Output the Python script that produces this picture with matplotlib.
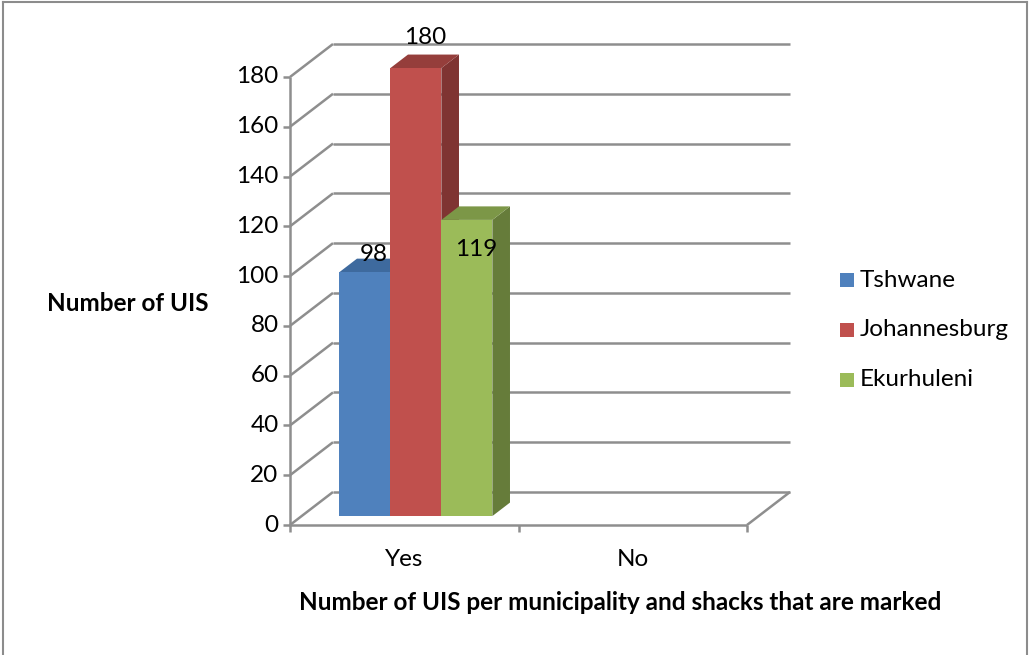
import matplotlib.pyplot as plt
from matplotlib.patches import Rectangle, Polygon

plt.rcParams['font.family'] = ['Lato', 'DejaVu Sans']

# data
categories = ["Yes", "No"]
series = ["Tshwane", "Johannesburg", "Ekurhuleni"]
values = {
    "Tshwane": [98, 0],
    "Johannesburg": [180, 0],
    "Ekurhuleni": [119, 0],
}
yticks = list(range(0, 181, 20))

front_colors = ["#4F81BD", "#C0504D", "#9BBB59"]
top_colors = ["#3E6A9E", "#953E3B", "#7C9747"]
side_colors = ["#365C8A", "#7F3432", "#667C3A"]
label_offsets = [10.5, 15.7, -8.5]

grid_c = "#8E8E8E"
fs = 17.5

fig = plt.figure(figsize=(10.3, 6.55), dpi=100)
ax = fig.add_axes([290 / 1030, 130 / 655, 500 / 1030, 481 / 655])

# depth of the 3D box in data units
ddx = 43 / 228.5
ddy = 33 / 2.489
x0, x1 = -0.5, len(categories) - 0.5
ymax = 180
ax.set_xlim(x0, x1 + ddx)
ax.set_ylim(0, ymax + ddy)
ax.axis("off")

kw = dict(color=grid_c, lw=1.8, clip_on=False, solid_capstyle="butt")

# back wall gridlines and side wall diagonals
for v in yticks:
    ax.plot([x0 + ddx, x1 + ddx], [v + ddy, v + ddy], **kw)
    ax.plot([x0, x0 + ddx], [v, v + ddy], **kw)
    ax.plot([x0 - 0.031, x0], [v, v], **kw)
    ax.text(x0 - 0.05, v, str(v), ha="right", va="center", fontsize=fs)

# floor and front axis
ax.plot([x0, x1], [0, 0], **kw)
ax.plot([x1, x1 + ddx], [0, ddy], **kw)
ax.plot([x0, x0], [0, ymax], **kw)
for xc in [x0, 0.5, x1]:
    ax.plot([xc, xc], [0, -2.9], **kw)

# bars
n = len(series)
bar_w = 51 / 228.5
t0, t1 = 0.27, 0.68
for i, name in enumerate(series):
    for j, val in enumerate(values[name]):
        if val == 0:
            continue
        left = j - n * bar_w / 2 + i * bar_w + t0 * ddx
        base = t0 * ddy
        top = base + val
        bx = (t1 - t0) * ddx
        by = (t1 - t0) * ddy
        ax.add_patch(Polygon([(left + bar_w, base), (left + bar_w + bx, base + by),
                              (left + bar_w + bx, top + by), (left + bar_w, top)],
                             closed=True, fc=side_colors[i], ec="none", zorder=3))
        ax.add_patch(Polygon([(left, top), (left + bx, top + by),
                              (left + bar_w + bx, top + by), (left + bar_w, top)],
                             closed=True, fc=top_colors[i], ec="none", zorder=3))
        ax.add_patch(Rectangle((left, base), bar_w, val, fc=front_colors[i],
                               ec="none", zorder=4))
        ax.text(left + bar_w / 2 + bx / 2, val + label_offsets[i], str(val),
                ha="center", va="center", fontsize=fs, zorder=6)

# category labels
for j, cat in enumerate(categories):
    ax.text(j, -14, cat, ha="center", va="center", fontsize=fs)

fig.text(620 / 1030, 1 - 602 / 655,
         "Number of UIS per municipality and shacks that are marked",
         ha="center", va="center", fontsize=fs, fontweight="bold")
fig.text(128 / 1030, 1 - 303 / 655, "Number of UIS",
         ha="center", va="center", fontsize=fs, fontweight="bold")

# legend
for i, name in enumerate(series):
    yy = 1 - (280 + 50 * i) / 655
    fig.patches.append(Rectangle((840 / 1030, yy - 7 / 655), 14 / 1030, 14 / 655,
                                 transform=fig.transFigure, fc=front_colors[i],
                                 ec="none"))
    fig.text(860 / 1030, yy, name, ha="left", va="center", fontsize=fs)

# outer frame
frame = dict(color="#8C8C8C", lw=1.5, transform=fig.transFigure)
fig.add_artist(plt.Line2D([3 / 1030, 3 / 1030], [0, 1 - 2 / 655], **frame))
fig.add_artist(plt.Line2D([3 / 1030, 1027 / 1030], [1 - 2 / 655, 1 - 2 / 655], **frame))
fig.add_artist(plt.Line2D([1027 / 1030, 1027 / 1030], [0, 1 - 2 / 655], **frame))

fig.savefig("out.png", dpi=100, facecolor="white")
